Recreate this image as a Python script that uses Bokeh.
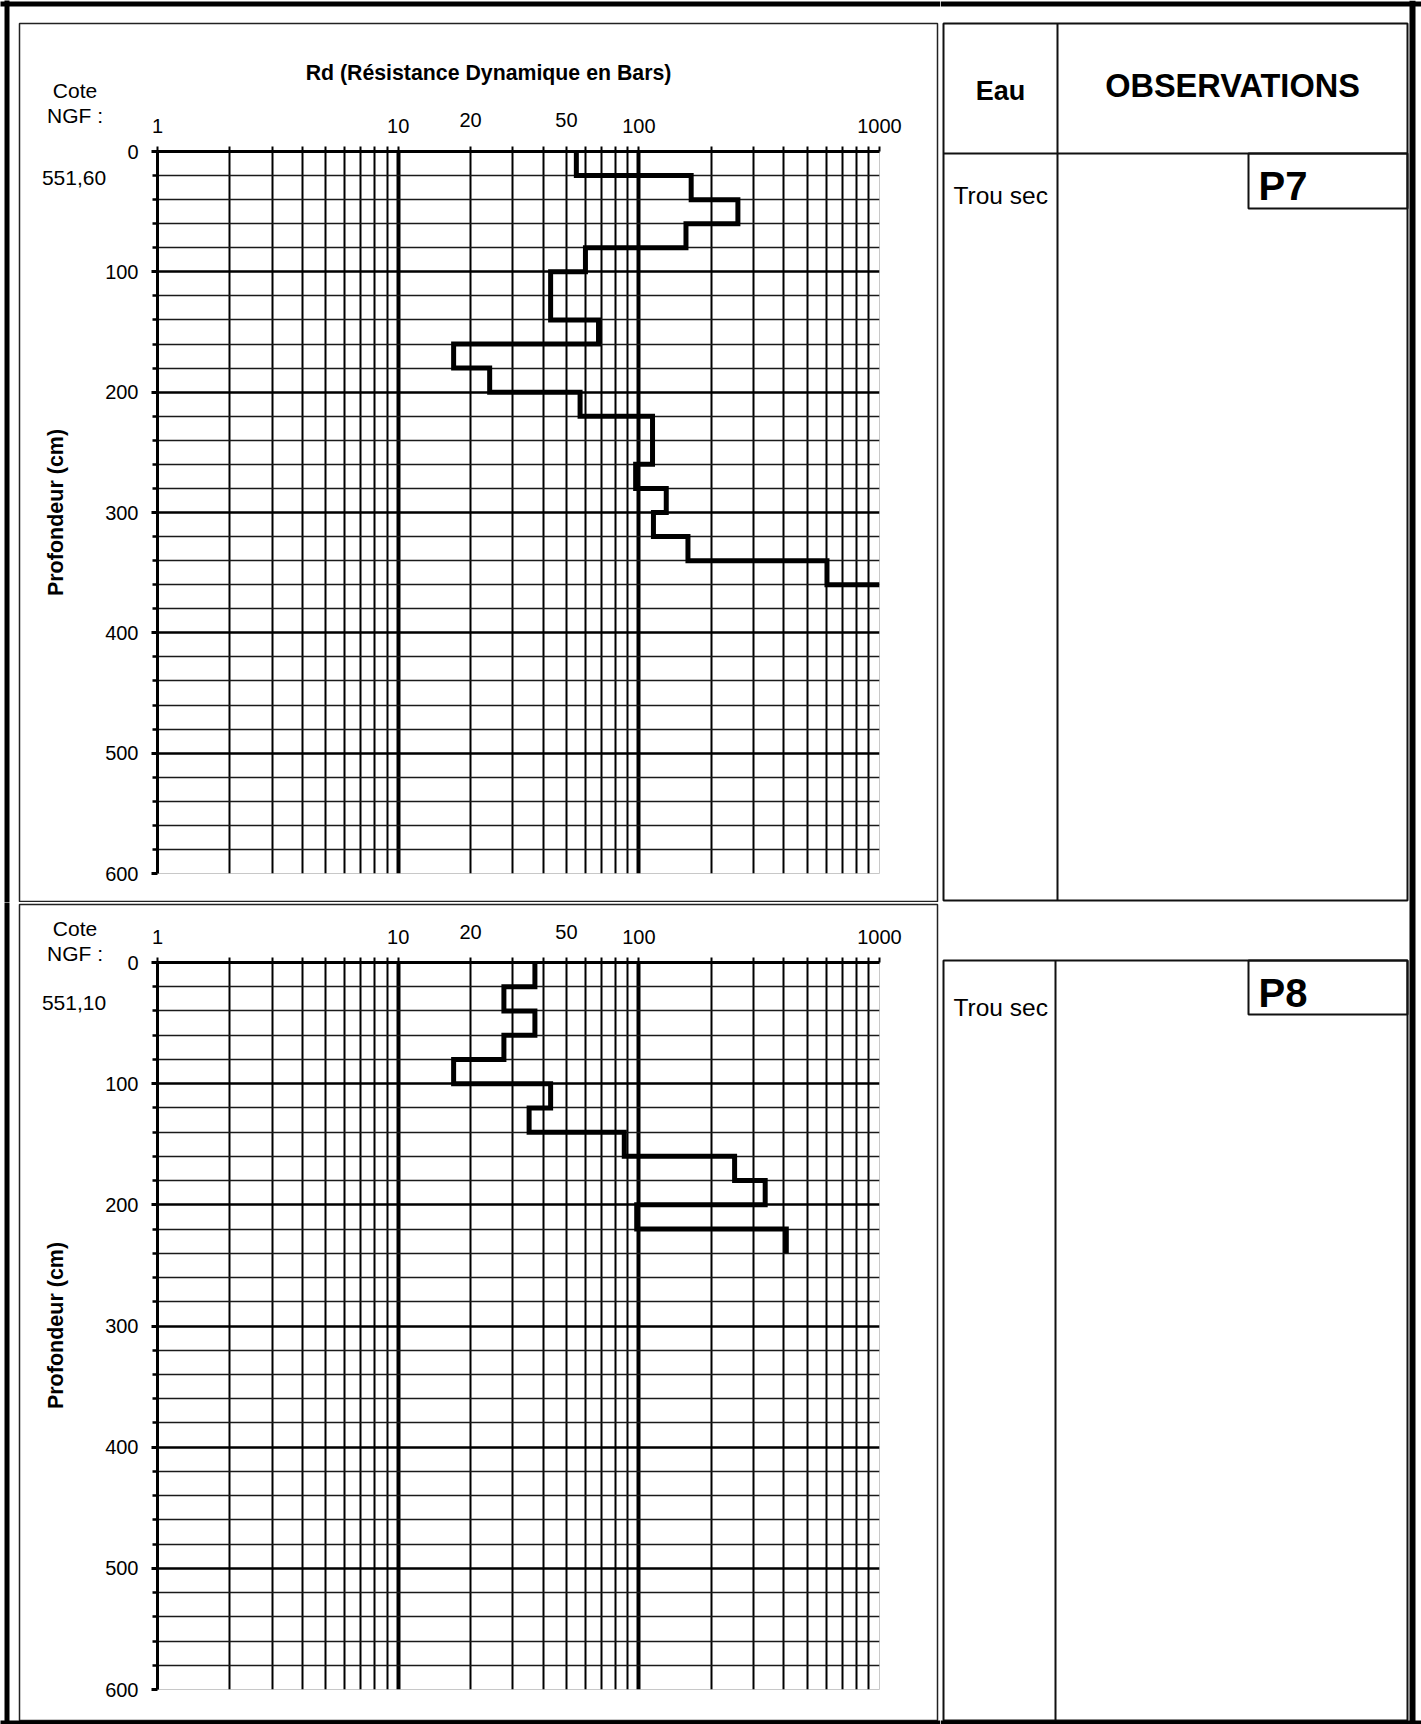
import numpy as np
from bokeh.plotting import figure
from bokeh.models import Range1d, FixedTicker, ColumnDataSource, LinearScale, BasicTickFormatter
from bokeh.layouts import row, column
from bokeh.embed import file_html
from bokeh.resources import INLINE
from bokeh.core.properties import value

FONT = "Liberation Sans"

# ---------------- data ----------------
rd_major_ticks = [1, 10, 100, 1000]
rd_extra_labels = [20, 50]
rd_minor_ticks = [2, 3, 4, 5, 6, 7, 8, 9, 20, 30, 40, 50, 60, 70, 80, 90,
                  200, 300, 400, 500, 600, 700, 800, 900]
rd_grid_major = [10, 100]
depth_major = [0, 100, 200, 300, 400, 500, 600]
depth_grid_major = [100, 200, 300, 400, 500]
depth_minor = [20, 40, 60, 80, 120, 140, 160, 180, 220, 240, 260, 280, 320, 340,
               360, 380, 420, 440, 460, 480, 520, 540, 560, 580]

p7_depth = [0, 20, 40, 60, 80, 100, 120, 140, 160, 180, 200, 220, 240, 260, 280,
            300, 320, 340, 360]
p7_rd = [55, 165, 258, 157, 60, 43, 43, 68, 17, 24, 57, 114, 114, 97, 130, 115, 160, 605]
p7_refus = 1000

p8_depth = [0, 20, 40, 60, 80, 100, 120, 140, 160, 180, 200, 220, 240]
p8_rd = [37, 27.5, 37, 27.5, 17, 43, 35, 87, 250, 335, 98, 410]
p8_refus = None

cote_p7 = "551,60"
cote_p8 = "551,10"
title_rd = "Rd (Résistance Dynamique en Bars)"
y_title = "Profondeur (cm)"
eau_text = "Trou sec"

PAGE_W, PAGE_H = 1421, 1724
LEFT_W = 940
FL, FR = 157, 879


def step_path(depth, rd, refus):
    xs, ys = [], []
    for i, v in enumerate(rd):
        xs += [v, v]
        ys += [depth[i], depth[i + 1]]
    if refus is not None:
        xs.append(refus)
        ys.append(depth[-1])
    return xs, ys


def make_panel(page_top, height, frame_top, frame_bottom, depth, rd, refus, cote,
               box_top, box_bottom, y_cote, y_ngf, y_cote_val, y_ylabel, y_extra,
               show_title, border_top, border_bottom):
    p = figure(width=LEFT_W, height=height, x_axis_type="log", x_axis_location="above",
               x_range=Range1d(1, 1000), y_range=Range1d(600, 0),
               output_backend="svg", toolbar_location=None,
               min_border_left=FL, min_border_right=LEFT_W - FR,
               min_border_top=frame_top - page_top,
               min_border_bottom=page_top + height - frame_bottom)
    p.background_fill_color = "white"
    p.border_fill_color = "white"
    p.outline_line_color = "#c8c8c8"
    p.outline_line_width = 1
    p.extra_x_ranges = {"px": Range1d(FL, FR)}
    p.extra_y_ranges = {"px": Range1d(frame_bottom, frame_top)}
    p.extra_x_scales = {"px": LinearScale()}
    p.extra_y_scales = {"px": LinearScale()}

    # grids
    p.xgrid.ticker = FixedTicker(ticks=rd_grid_major, minor_ticks=rd_minor_ticks + [1000])
    p.xgrid.grid_line_color = "black"
    p.xgrid.grid_line_width = 4
    p.xgrid.minor_grid_line_color = "black"
    p.xgrid.minor_grid_line_width = 2
    p.ygrid.ticker = FixedTicker(ticks=depth_grid_major, minor_ticks=depth_minor)
    p.ygrid.grid_line_color = "black"
    p.ygrid.grid_line_width = 2.6
    p.ygrid.minor_grid_line_color = "#1a1a1a"
    p.ygrid.minor_grid_line_width = 1.6

    # axes
    xa = p.xaxis[0]
    xa.ticker = FixedTicker(ticks=rd_major_ticks, minor_ticks=rd_minor_ticks)
    xa.formatter = BasicTickFormatter(use_scientific=False)
    xa.major_label_overrides = {1: "1", 10: "10", 100: "100", 1000: "1000"}
    xa.axis_line_width = 3
    xa.axis_line_color = "black"
    xa.major_tick_out = 5
    xa.major_tick_in = 0
    xa.minor_tick_out = 5
    xa.minor_tick_in = 0
    xa.major_tick_line_width = 2
    xa.minor_tick_line_width = 2
    xa.major_label_text_font = FONT
    xa.major_label_text_font_size = "20px"
    xa.major_label_text_color = "black"
    xa.major_label_standoff = 14

    ya = p.yaxis[0]
    ya.ticker = FixedTicker(ticks=depth_major, minor_ticks=depth_minor)
    ya.axis_line_width = 3
    ya.axis_line_color = "black"
    ya.major_tick_out = 6
    ya.major_tick_in = 0
    ya.minor_tick_out = 5
    ya.minor_tick_in = 0
    ya.major_tick_line_width = 3
    ya.minor_tick_line_width = 2.5
    ya.major_label_text_font = FONT
    ya.major_label_text_font_size = "20px"
    ya.major_label_text_color = "black"
    ya.major_label_standoff = 13

    # data step line
    xs, ys = step_path(depth, rd, refus)
    src = ColumnDataSource(dict(x=xs, y=ys))
    p.line("x", "y", source=src, line_color="black", line_width=5, line_join="miter")

    px = dict(x_range_name="px", y_range_name="px", level="overlay")
    # panel box
    p.quad(left=[19], right=[937], top=[box_top], bottom=[box_bottom],
           fill_alpha=0, line_color="#222222", line_width=1.5, **px)
    # outer thick page border parts
    p.segment(x0=[6.5], y0=[page_top], x1=[6.5], y1=[page_top + height],
              line_color="black", line_width=5, **px)
    if border_top is not None:
        p.segment(x0=[0], y0=[border_top], x1=[LEFT_W], y1=[border_top],
                  line_color="black", line_width=5, **px)
    if border_bottom is not None:
        p.segment(x0=[0], y0=[border_bottom], x1=[LEFT_W], y1=[border_bottom],
                  line_color="black", line_width=4, **px)

    tfont = dict(text_font=value(FONT), text_color="black", text_baseline="middle")
    p.text(x=[74.5, 74.5, 73.5], y=[y_cote, y_ngf, y_cote_val],
           text=["Cote", "NGF :", cote], text_font_size="21px", text_align="center",
           **tfont, **px)
    p.text(x=[55], y=[y_ylabel], text=[y_title], angle=np.pi / 2,
           text_font_size="21.5px", text_font_style="bold", text_align="center",
           **tfont, **px)
    if show_title:
        p.text(x=[488], y=[72], text=[title_rd], text_font_size="21.3px",
               text_font_style="bold", text_align="center", **tfont, **px)
    p.text(x=rd_extra_labels, y=[y_extra] * len(rd_extra_labels),
           text=[str(v) for v in rd_extra_labels], text_font_size="20px",
           text_align="center", y_range_name="px", level="overlay", **tfont)
    return p


pA = make_panel(0, 902, 151, 873, p7_depth, p7_rd, p7_refus, cote_p7,
                23, 901, 90, 115, 177, 512, 119, True, 3.5, None)
pB = make_panel(902, 822, 962, 1689, p8_depth, p8_rd, p8_refus, cote_p8,
                904, 1720, 928, 953, 1002, 1325, 931, False, None, 1722)

# ---------------- right side table ----------------
r = figure(width=PAGE_W - LEFT_W, height=PAGE_H, x_range=Range1d(LEFT_W, PAGE_W),
           y_range=Range1d(PAGE_H, 0), x_axis_type=None, y_axis_type=None,
           output_backend="svg", toolbar_location=None, min_border=0,
           min_border_left=0, min_border_right=0, min_border_top=0, min_border_bottom=0)
r.grid.visible = False
r.outline_line_color = None
r.background_fill_color = "white"
r.border_fill_color = "white"

# table boxes
r.quad(left=[943, 943, 1248, 1248], right=[1407, 1407, 1407, 1407],
       top=[23, 960, 153, 960], bottom=[900, 1720, 208, 1014],
       fill_alpha=0, line_color="#111111", line_width=2)
r.segment(x0=[1057, 943, 1055], y0=[23, 153, 960], x1=[1057, 1407, 1055],
          y1=[900, 153, 1720], line_color="#111111", line_width=2)
# outer thick border
r.segment(x0=[LEFT_W, 1412, LEFT_W], y0=[3.5, 0, 1722], x1=[PAGE_W, 1412, PAGE_W],
          y1=[3.5, PAGE_H, 1722], line_color="black", line_width=[5, 6, 4])

rf = dict(text_font=value(FONT), text_color="black", text_baseline="middle")
r.text(x=[1000], y=[90], text=["Eau"], text_font_size="27px", text_font_style="bold",
       text_align="center", **rf)
r.text(x=[1232], y=[85], text=["OBSERVATIONS"], text_font_size="32.5px",
       text_font_style="bold", text_align="center", **rf)
r.text(x=[953, 953], y=[195, 1007], text=[eau_text, eau_text], text_font_size="24.5px",
       text_align="left", **rf)
r.text(x=[1258, 1258], y=[185, 992], text=["P7", "P8"], text_font_size="40px",
       text_font_style="bold", text_align="left", **rf)

layout = row(column(pA, pB, spacing=0), r, spacing=0)

open("out.html", "w").write(file_html(layout, INLINE))
